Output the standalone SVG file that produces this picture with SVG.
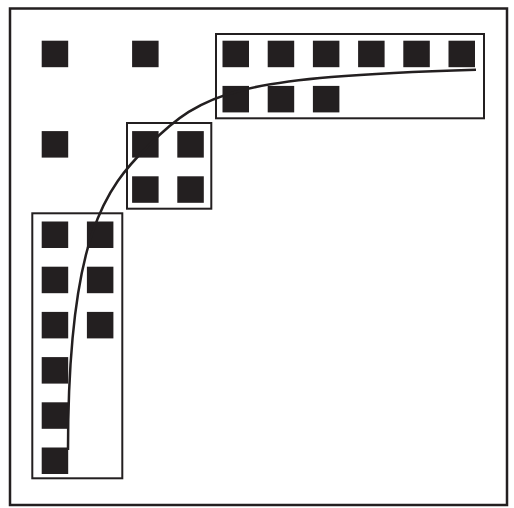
<svg xmlns="http://www.w3.org/2000/svg" width="514" height="508" viewBox="0 0 514 508">
<style>
.sq{fill:#231f20}
.box{fill:none;stroke:#231f20;stroke-width:2}
.frame{fill:none;stroke:#231f20;stroke-width:2.5}
.curve{fill:none;stroke:#231f20;stroke-width:2.5}
</style>
<defs><rect id="s" width="26.5" height="26.5" class="sq"/></defs>
<rect width="514" height="508" fill="#fff"/>
<g id="frame"><rect class="frame" x="10" y="8.5" width="497" height="496.5"/></g>
<g id="squares">
<use href="#s" x="41.7" y="40.7"/><use href="#s" x="132.1" y="40.7"/>
<use href="#s" x="222.5" y="40.7"/><use href="#s" x="267.7" y="40.7"/><use href="#s" x="312.9" y="40.7"/><use href="#s" x="358.1" y="40.7"/><use href="#s" x="403.3" y="40.7"/><use href="#s" x="448.5" y="40.7"/>
<use href="#s" x="222.5" y="85.9"/><use href="#s" x="267.7" y="85.9"/><use href="#s" x="312.9" y="85.9"/>
<use href="#s" x="41.7" y="131.1"/><use href="#s" x="132.1" y="131.1"/><use href="#s" x="177.3" y="131.1"/>
<use href="#s" x="132.1" y="176.3"/><use href="#s" x="177.3" y="176.3"/>
<use href="#s" x="41.7" y="221.5"/><use href="#s" x="86.9" y="221.5"/>
<use href="#s" x="41.7" y="266.7"/><use href="#s" x="86.9" y="266.7"/>
<use href="#s" x="41.7" y="311.9"/><use href="#s" x="86.9" y="311.9"/>
<use href="#s" x="41.7" y="357.1"/>
<use href="#s" x="41.7" y="402.3"/>
<use href="#s" x="41.7" y="447.5"/>
</g>
<g id="group-top"><rect class="box" x="216" y="34" width="268" height="84.3"/></g>
<g id="group-middle"><rect class="box" x="127" y="123" width="84.3" height="85.7"/></g>
<g id="group-left"><rect class="box" x="32.3" y="213.3" width="90" height="265"/></g>
<g id="connectors">
<path class="curve" d="M476,69.7 C236,77 203,91 148,146 C106,188 68,235 68,450"/>
</g>
</svg>
